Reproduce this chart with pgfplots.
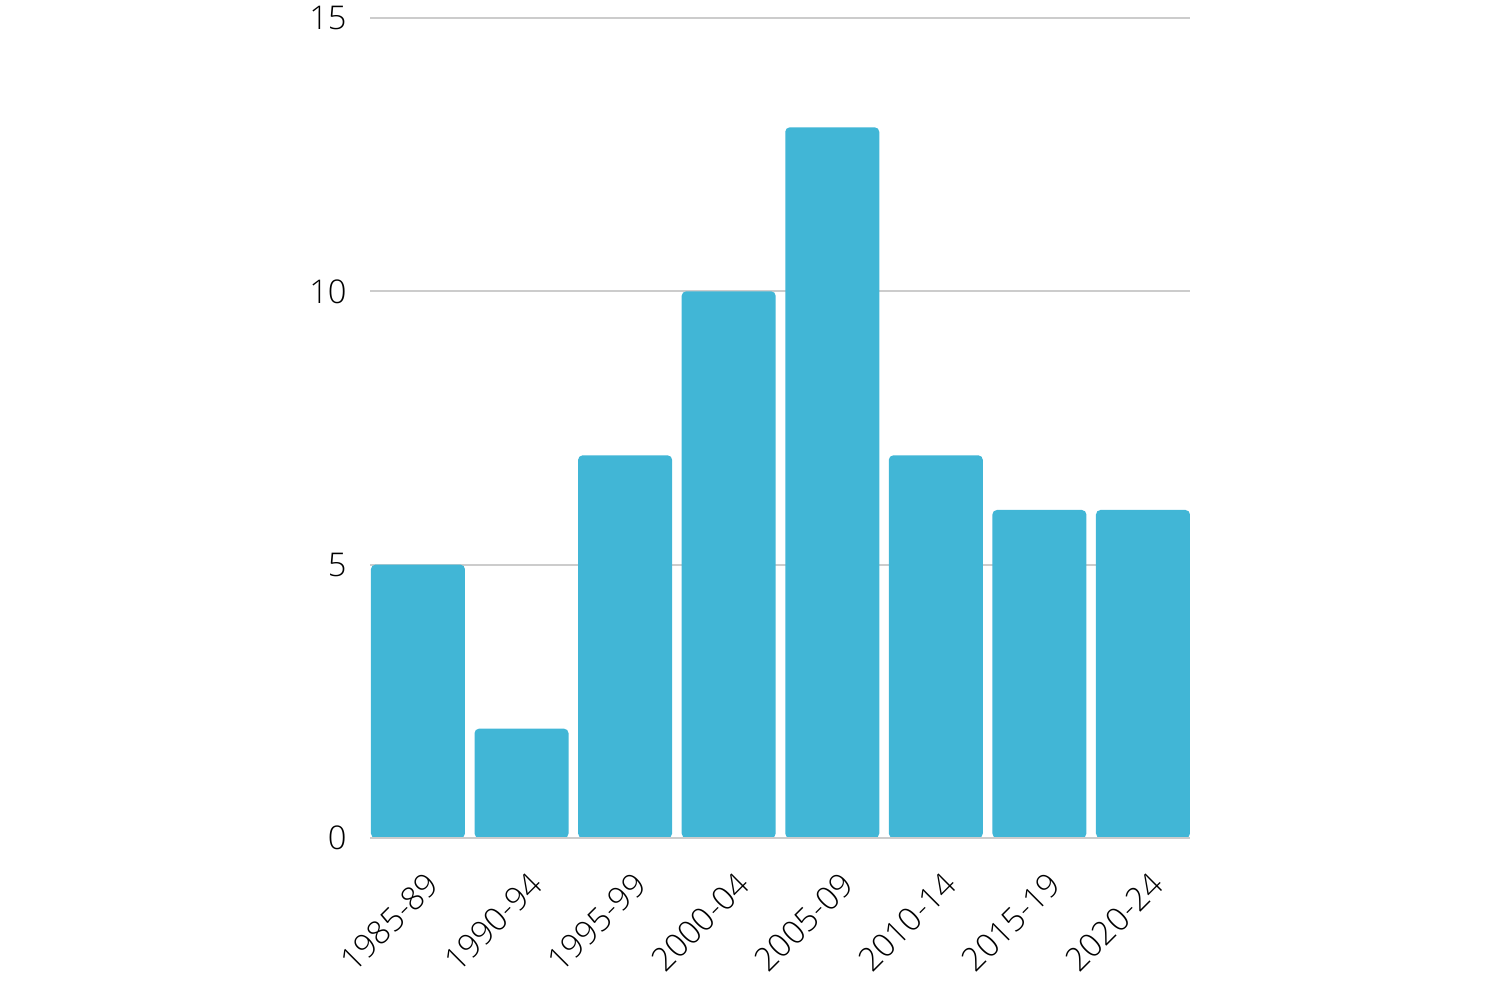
\documentclass[border=0pt]{standalone}
\usepackage{pgfplots}
\pgfplotsset{compat=1.18}
\usepackage{fontspec}
\IfFontExistsTF{Open Sans Light}{\setmainfont{Open Sans Light}}{\setmainfont{Open Sans}}
\definecolor{barc}{HTML}{41B6D6}
\definecolor{gridc}{HTML}{CCCCCC}
\begin{document}
\begin{tikzpicture}[x=1mm,y=1mm]
\path[use as bounding box] (-37,-16.2) rectangle (113,83.8);
\begin{axis}[
  at={(0,0)}, anchor=south west,
  scale only axis, width=82mm, height=82mm,
  ymin=0, ymax=15, xmin=-0.463, xmax=7.454,
  ytick={0,5,10,15},
  xtick={0,1,2,3,4,5,6,7},
  xticklabels={1985-89,1990-94,1995-99,2000-04,2005-09,2010-14,2015-19,2020-24},
  axis line style={draw=none},
  major tick length=0pt,
  ymajorgrids, grid style={gridc, line width=0.5pt},
  font=\fontsize{9.3}{11}\selectfont,
  /pgf/number format/assume math mode=true,
  yticklabel style={anchor=east, xshift=-1.1mm, yshift=0mm},
  xticklabel style={rotate=45, anchor=north east, xshift=-0.6mm, yshift=-1.5mm},
  clip=false,
]
\addplot[ybar, bar width=9.4mm, fill=barc, draw=none, rounded corners=0.45mm] coordinates {
(0,5) (1,2) (2,7) (3,10) (4,13) (5,7) (6,6) (7,6)
};
\addplot[sharp plot, gridc, line width=0.5pt, mark=none] coordinates {(-0.463,0) (7.454,0)};
\end{axis}
\end{tikzpicture}
\end{document}
